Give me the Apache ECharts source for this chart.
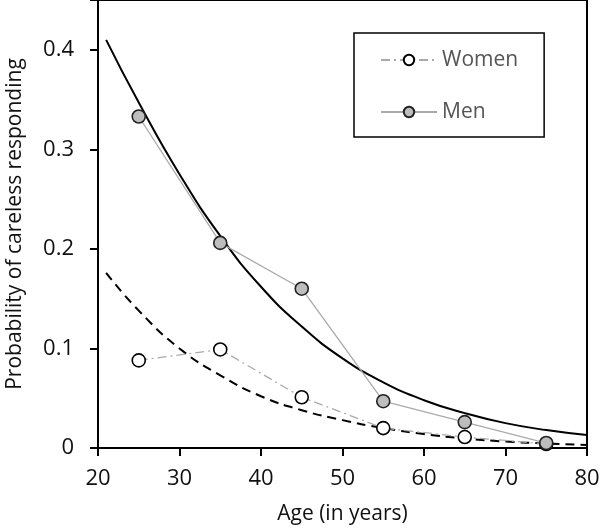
<!DOCTYPE html>
<html><head><meta charset="utf-8">
<script src="https://cdn.jsdelivr.net/npm/echarts@6/dist/echarts.min.js"></script>
<style>html,body{margin:0;padding:0;background:#fff}#c{width:600px;height:530px}</style>
</head><body><div id="c"></div>
<script>
var ages = [25, 35, 45, 55, 65, 75];
var women = [0.088, 0.099, 0.051, 0.020, 0.011, 0.004];
var men = [0.333, 0.206, 0.160, 0.047, 0.026, 0.005];
var fitAges = [21, 25, 30, 35, 40, 45, 50, 55, 60, 65, 70, 75, 80];
var menFit = [0.410, 0.347, 0.275, 0.213, 0.162, 0.122, 0.090, 0.066, 0.048, 0.035, 0.025, 0.018, 0.013];
var womenFit = [0.176, 0.138, 0.100, 0.073, 0.052, 0.038, 0.028, 0.020, 0.014, 0.0095, 0.0065, 0.0045, 0.003];
var xTicks = [20, 30, 40, 50, 60, 70, 80];
var yTicks = [0, 0.1, 0.2, 0.3, 0.4];

function pairs(xs, ys){ return xs.map(function(x,i){ return [x, ys[i]]; }); }

var font = 'Open Sans';
var chart = echarts.init(document.getElementById('c'));
chart.setOption({
  animation: false,
  grid: {left: 98, right: 13, top: 0, bottom: 82, show: true, borderColor: '#000', borderWidth: 2,
         containLabel: false, outerBoundsMode: 'none'},
  legend: {
    orient: 'vertical', left: 354, top: 33,
    data: ['Women', 'Men'],
    borderColor: '#000', borderWidth: 1.5, padding: [15, 26, 13, 26],
    itemWidth: 56, itemHeight: 13, itemGap: 28,
    textStyle: {fontFamily: font, fontSize: 21, color: '#555', lineHeight: 24}
  },
  xAxis: {
    type: 'value', min: 20, max: 80, interval: 10,
    name: 'Age (in years)', nameLocation: 'middle', nameGap: 56,
    nameTextStyle: {fontFamily: font, fontSize: 21, color: '#111'},
    axisLine: {lineStyle: {color: '#000', width: 2}},
    axisTick: {show: true, length: 8, lineStyle: {color: '#000', width: 2}},
    axisLabel: {fontFamily: font, fontSize: 22, color: '#111', margin: 20,
      formatter: function(v){ return xTicks.indexOf(v) >= 0 ? String(v) : ''; }},
    splitLine: {show: false}
  },
  yAxis: {
    type: 'value', min: 0, max: 0.45, interval: 0.1,
    name: 'Probability of careless responding', nameLocation: 'middle', nameGap: 72,
    nameTextStyle: {fontFamily: font, fontSize: 21, color: '#111'},
    axisLine: {lineStyle: {color: '#000', width: 2}},
    axisTick: {show: true, length: 8, lineStyle: {color: '#000', width: 2}},
    axisLabel: {fontFamily: font, fontSize: 22, color: '#111', margin: 24,
      formatter: function(v){
        for (var i = 0; i < yTicks.length; i++) if (Math.abs(yTicks[i] - v) < 1e-9) return yTicks[i] === 0 ? '0' : String(yTicks[i]);
        return '';
      }},
    splitLine: {show: false}
  },
  series: [
    {name: 'WomenFit', type: 'line', data: pairs(fitAges, womenFit), smooth: true, symbol: 'none',
     lineStyle: {color: '#000', width: 2, type: [9, 6]}, z: 3},
    {name: 'MenFit', type: 'line', data: pairs(fitAges, menFit), smooth: true, symbol: 'none',
     lineStyle: {color: '#000', width: 2}, z: 3},
    {name: 'Women', type: 'line', data: pairs(ages, women), symbol: 'circle', symbolSize: 13,
     lineStyle: {color: '#aaa', width: 1.3, type: [9, 4, 2, 4]},
     itemStyle: {color: '#fff', borderColor: '#000', borderWidth: 1.6}, z: 4},
    {name: 'Men', type: 'line', data: pairs(ages, men), symbol: 'circle', symbolSize: 13,
     lineStyle: {color: '#aaa', width: 1.3},
     itemStyle: {color: '#bdbdbd', borderColor: '#222', borderWidth: 1.6}, z: 5}
  ]
});
</script></body></html>
